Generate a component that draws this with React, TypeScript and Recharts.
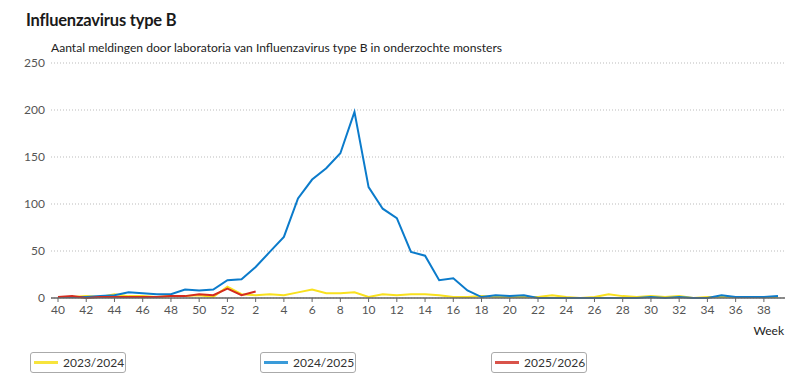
import React from "react";
import { CartesianGrid, Line, LineChart, XAxis, YAxis } from "recharts";

const weeks: string[] = [
  "40", "41", "42", "43", "44", "45", "46", "47", "48", "49", "50", "51", "52",
  "1", "2", "3", "4", "5", "6", "7", "8", "9", "10", "11", "12", "13",
  "14", "15", "16", "17", "18", "19", "20", "21", "22", "23", "24", "25", "26",
  "27", "28", "29", "30", "31", "32", "33", "34", "35", "36", "37", "38", "39",
];

const season2324: number[] = [
  1, 1, 2, 1, 4, 2, 2, 1, 2, 2, 3, 1, 12,
  4, 3, 4, 3, 6, 9, 5, 5, 6, 1, 4, 3, 4,
  4, 3, 1, 1, 2, 1, 1, 1, 1, 3, 1, 0, 1,
  4, 2, 1, 2, 1, 2, 0, 1, 1, 1, 1, 1, 1,
];

const season2425: number[] = [
  1, 1, 1, 2, 3, 6, 5, 4, 4, 9, 8, 9, 19,
  20, 33, 49, 65, 106, 126, 138, 154, 198, 118, 95, 85, 49,
  45, 19, 21, 8, 1, 3, 2, 3, 0, 0, 0, 0, 0,
  0, 0, 0, 1, 0, 1, 0, 0, 3, 1, 1, 1, 2,
];

const season2526: (number | null)[] = [
  1, 2, 0, 1, 1, 1, 1, 1, 2, 2, 4, 3, 10,
  3, 7,
];

const yTicks: number[] = [0, 50, 100, 150, 200, 250];

const seasons = [
  { key: "s2324", name: "2023/2024", color: "#f9e11e", legend: "#f7e43c", values: season2324 },
  { key: "s2425", name: "2024/2025", color: "#0b7bcb", legend: "#3a9bd9", values: season2425 },
  { key: "s2526", name: "2025/2026", color: "#d52b1e", legend: "#d9534a", values: season2526 },
];

const data = weeks.map((week, i) => {
  const row: Record<string, string | number | null> = { week };
  seasons.forEach((s) => {
    const v = s.values[i];
    row[s.key] = v === undefined ? null : v;
  });
  return row;
});

const font = "Lato, 'Open Sans', sans-serif";
const tickStyle = { fontSize: 12, fill: "#555", fontFamily: font };

const legendLeft = [30, 260, 491];

export default function App() {
  return (
    <div
      style={{
        position: "absolute",
        left: 0,
        top: 0,
        width: 798,
        height: 376,
        background: "#fff",
        fontFamily: font,
      }}
    >
      <div
        style={{
          position: "absolute",
          left: 26,
          top: 12,
          fontSize: 16.5,
          lineHeight: 1,
          fontWeight: 700,
          letterSpacing: -0.2,
          color: "#1a1a1a",
          whiteSpace: "nowrap",
        }}
      >
        Influenzavirus type B
      </div>
      <div
        style={{
          position: "absolute",
          left: 51,
          top: 42,
          fontSize: 12.1,
          lineHeight: 1,
          color: "#222",
          whiteSpace: "nowrap",
        }}
      >
        Aantal meldingen door laboratoria van Influenzavirus type B in onderzochte monsters
      </div>

      <div style={{ position: "absolute", left: 0, top: 0 }}>
        <LineChart
          width={798}
          height={376}
          data={data}
          margin={{ top: 63, right: 13, bottom: 48, left: 9 }}
        >
          <CartesianGrid vertical={false} stroke="#bbb" strokeDasharray="1 2" />
          <XAxis
            dataKey="week"
            interval={1}
            padding={{ left: 7, right: 7 }}
            tick={tickStyle}
            tickSize={4}
            tickMargin={3}
            stroke="#666"
            tickLine={{ stroke: "#666" }}
            axisLine={{ stroke: "#666", strokeWidth: 1.5 }}
          />
          <YAxis
            domain={[0, 250]}
            ticks={yTicks}
            width={42}
            tick={tickStyle}
            tickLine={false}
            axisLine={false}
            tickSize={0}
            tickMargin={6}
          />
          {seasons.map((s) => (
            <Line
              key={s.key}
              dataKey={s.key}
              name={s.name}
              type="linear"
              stroke={s.color}
              strokeWidth={2}
              dot={false}
              activeDot={false}
              connectNulls={false}
              isAnimationActive={false}
            />
          ))}
        </LineChart>
      </div>

      <div
        style={{
          position: "absolute",
          right: 14,
          top: 325,
          fontSize: 12,
          lineHeight: 1,
          color: "#222",
        }}
      >
        Week
      </div>

      {seasons.map((s, i) => (
        <div
          key={s.key}
          style={{
            position: "absolute",
            left: legendLeft[i],
            top: 352,
            width: 96,
            height: 21,
            boxSizing: "border-box",
            border: "1px solid #aaa",
            borderRadius: 3,
            display: "flex",
            alignItems: "center",
            fontSize: 12,
            color: "#333",
          }}
        >
          <span
            style={{
              display: "inline-block",
              width: 24,
              height: 3,
              marginLeft: 3,
              marginRight: 5,
              background: s.legend,
            }}
          />
          {s.name}
        </div>
      ))}
    </div>
  );
}
